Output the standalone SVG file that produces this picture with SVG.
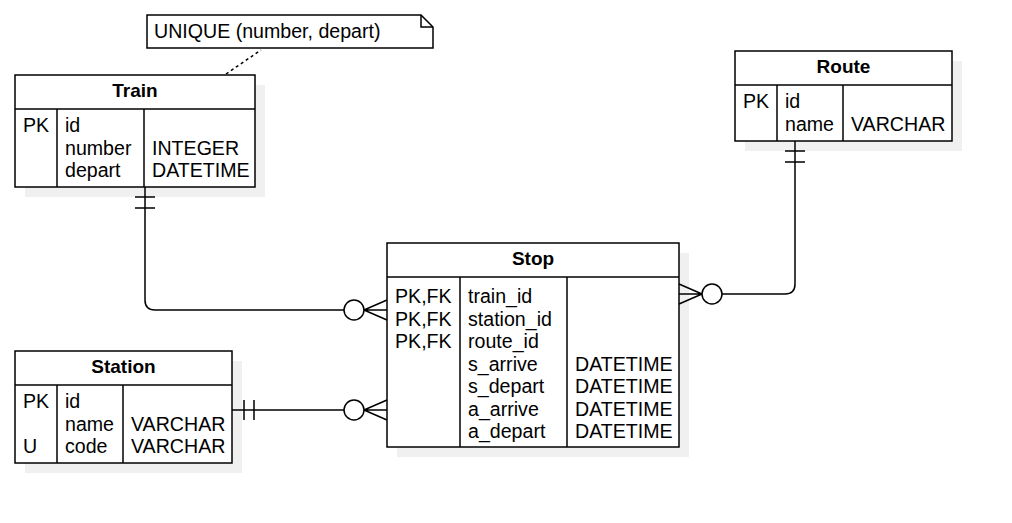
<svg xmlns="http://www.w3.org/2000/svg" width="1012" height="523" viewBox="0 0 1012 523">
<style>
.sh{fill:#f0f0f0;stroke:none}
.box{fill:#ffffff;stroke:#000;stroke-width:1.5}
.ln{stroke:#000;stroke-width:1.5;fill:none}
.t{font-family:"Liberation Sans",Arial,sans-serif;font-size:19.6px;fill:#000}
.h{font-family:"Liberation Sans",Arial,sans-serif;font-size:19px;font-weight:bold;fill:#000;text-anchor:middle}
.c{stroke:#000;stroke-width:1.5;fill:none}
.o{stroke:#000;stroke-width:1.5;fill:#fff}
</style>
<rect width="1012" height="523" fill="#fff"/>
<g id="note">
<polygon class="box" points="147,15 421,15 433,27 433,48 147,48"/>
<polyline class="ln" points="421,15 421,27 433,27"/>
<text class="t" x="154" y="38">UNIQUE (number, depart)</text>
</g>
<g id="train">
<rect class="sh" x="25" y="85" width="240" height="112"/>
<rect class="box" x="15" y="75" width="240" height="112"/>
<line class="ln" x1="15" y1="109" x2="255" y2="109"/>
<line class="ln" x1="57" y1="109" x2="57" y2="187"/>
<line class="ln" x1="144" y1="109" x2="144" y2="187"/>
<text class="h" x="135" y="97">Train</text>
<text class="t" x="23" y="132">PK</text>
<text class="t" x="65" y="132">id</text>
<text class="t" x="65" y="154.5">number</text>
<text class="t" x="65" y="177">depart</text>
<text class="t" x="152" y="154.5">INTEGER</text>
<text class="t" x="152" y="177">DATETIME</text>
</g>
<g id="route">
<rect class="sh" x="745" y="61" width="217" height="90"/>
<rect class="box" x="735" y="51" width="217" height="90"/>
<line class="ln" x1="735" y1="85" x2="952" y2="85"/>
<line class="ln" x1="777" y1="85" x2="777" y2="141"/>
<line class="ln" x1="843" y1="85" x2="843" y2="141"/>
<text class="h" x="843.5" y="73">Route</text>
<text class="t" x="743" y="108">PK</text>
<text class="t" x="785" y="108">id</text>
<text class="t" x="785" y="131">name</text>
<text class="t" x="851" y="131">VARCHAR</text>
</g>
<g id="stop">
<rect class="sh" x="397" y="253" width="292" height="204"/>
<rect class="box" x="387" y="243" width="292" height="204"/>
<line class="ln" x1="387" y1="277" x2="679" y2="277"/>
<line class="ln" x1="460" y1="277" x2="460" y2="447"/>
<line class="ln" x1="567" y1="277" x2="567" y2="447"/>
<text class="h" x="533" y="265">Stop</text>
<text class="t" x="395" y="303">PK,FK</text>
<text class="t" x="395" y="325.5">PK,FK</text>
<text class="t" x="395" y="348">PK,FK</text>
<text class="t" x="468" y="303">train_id</text>
<text class="t" x="468" y="325.5">station_id</text>
<text class="t" x="468" y="348">route_id</text>
<text class="t" x="468" y="370.5">s_arrive</text>
<text class="t" x="468" y="393">s_depart</text>
<text class="t" x="468" y="415.5">a_arrive</text>
<text class="t" x="468" y="438">a_depart</text>
<text class="t" x="575" y="370.5">DATETIME</text>
<text class="t" x="575" y="393">DATETIME</text>
<text class="t" x="575" y="415.5">DATETIME</text>
<text class="t" x="575" y="438">DATETIME</text>
</g>
<g id="station">
<rect class="sh" x="25" y="361" width="217" height="112"/>
<rect class="box" x="15" y="351" width="217" height="112"/>
<line class="ln" x1="15" y1="385" x2="232" y2="385"/>
<line class="ln" x1="57" y1="385" x2="57" y2="463"/>
<line class="ln" x1="123" y1="385" x2="123" y2="463"/>
<text class="h" x="123.5" y="373">Station</text>
<text class="t" x="23" y="408">PK</text>
<text class="t" x="23" y="453">U</text>
<text class="t" x="65" y="408">id</text>
<text class="t" x="65" y="430.5">name</text>
<text class="t" x="65" y="453">code</text>
<text class="t" x="131" y="430.5">VARCHAR</text>
<text class="t" x="131" y="453">VARCHAR</text>
</g>
<g id="connectors">
<line class="c" x1="226" y1="74" x2="261" y2="50" stroke-dasharray="3 3"/>
<path class="c" d="M145,187 V300 Q145,310 155,310 H344"/>
<path class="c" d="M135,197 H155 M135,208 H155"/>
<circle class="o" cx="354" cy="310" r="10"/>
<path class="c" d="M364,310 H387 M364,310 L387,300 M364,310 L387,320"/>
<path class="c" d="M232,410 H344"/>
<path class="c" d="M244,400 V420 M254,400 V420"/>
<circle class="o" cx="354" cy="410" r="10"/>
<path class="c" d="M364,410 H387 M364,410 L387,400 M364,410 L387,420"/>
<path class="c" d="M795,141 V284 Q795,294 785,294 H722"/>
<path class="c" d="M785,151 H805 M785,162 H805"/>
<circle class="o" cx="712" cy="294" r="10"/>
<path class="c" d="M702,294 H679 M702,294 L679,284 M702,294 L679,304"/>
</g>
</svg>
